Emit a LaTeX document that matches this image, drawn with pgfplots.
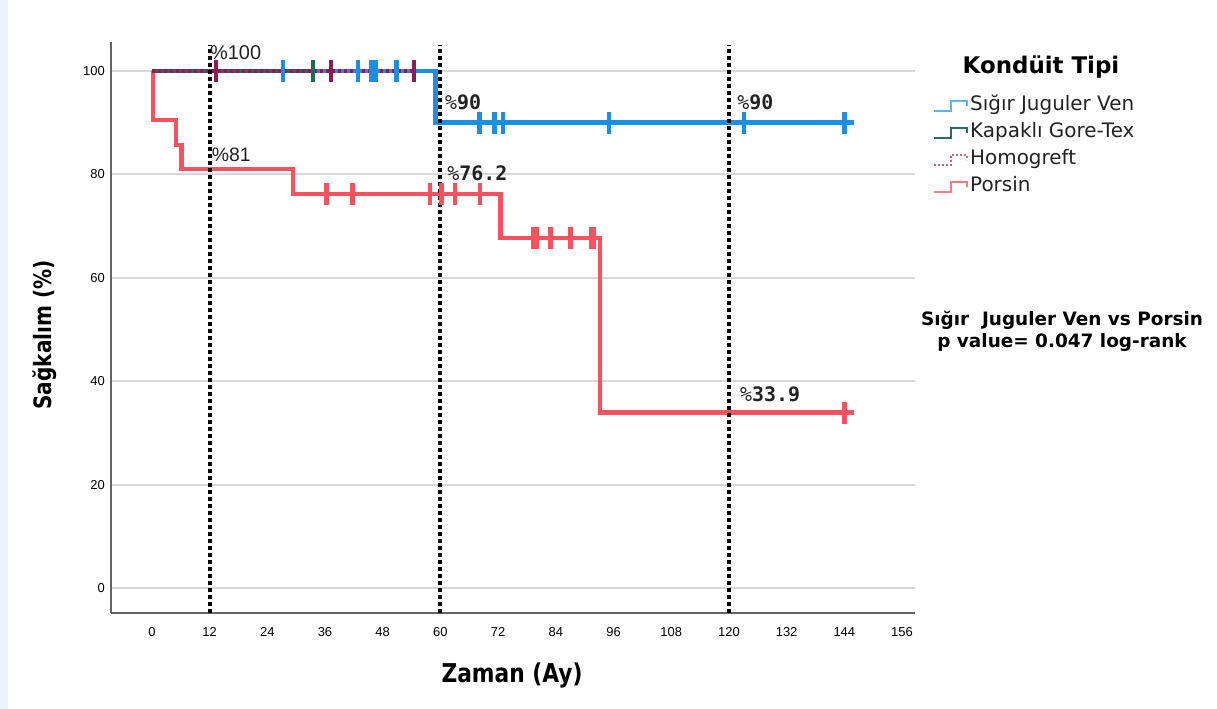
\documentclass[border=0pt]{standalone}
\usepackage{fontspec}
\setmainfont{DejaVu Sans}
\newfontfamily\condfont[FakeStretch=0.84]{DejaVu Sans}
\newfontfamily\tickfont{Liberation Sans}
\newfontfamily\monofont{DejaVu Sans Mono}
\newfontfamily\arialfont{Liberation Sans}
\usepackage{pgfplots}
\pgfplotsset{compat=1.18}
\definecolor{cblue}{RGB}{26,143,227}
\definecolor{cteal}{RGB}{28,107,94}
\definecolor{cmaroon}{RGB}{140,28,86}
\definecolor{cred}{RGB}{247,82,94}
\definecolor{cblueL}{RGB}{95,180,240}
\definecolor{ctealL}{RGB}{40,110,100}
\definecolor{cmaroonL}{RGB}{200,100,140}
\definecolor{credL}{RGB}{255,120,128}
\definecolor{gridgray}{RGB}{215,215,215}
\definecolor{axisgray}{RGB}{100,100,100}
\definecolor{legtext}{RGB}{34,34,34}
\definecolor{bgblue}{RGB}{234,244,252}
\begin{document}
\begin{tikzpicture}
\fill[white] (0,0) rectangle (1217bp,709bp);
\fill[bgblue] (0,0) rectangle (8bp,709bp);
\useasboundingbox (0,0) rectangle (1217bp,709bp);
\begin{axis}[
  at={(111bp,96bp)}, anchor=south west,
  scale only axis, width=804bp, height=571bp,
  xmin=-8.5, xmax=158.7, ymin=-4.84, ymax=105.6,
  axis lines*=left,
  axis line style={color=axisgray, line width=1.2bp, -},
  xtick={0,12,...,156}, ytick={0,20,...,100},
  major tick length=0pt,
  ymajorgrids, grid style={color=gridgray, line width=2bp},
  tick label style={font=\fontsize{13}{15}\selectfont\tickfont, text=black},
  /pgf/number format/assume math mode=true,
  xticklabel style={yshift=-11bp},
  yticklabel style={xshift=-2.7bp},
  xlabel={Zaman (Ay)}, ylabel={Sağkalım (\%)},
  xlabel style={at={(axis description cs:0.4988,-0.110)}, anchor=center,
    font=\fontsize{26}{30}\selectfont\condfont\bfseries},
  ylabel style={at={(axis description cs:-0.0821,0.487)}, anchor=center,
    font=\fontsize{24}{28}\selectfont\condfont\bfseries},
  clip=false,
  legend style={at={(1.0224,0.912)}, anchor=north west, draw=none, fill=none,
    inner sep=0pt, font=\fontsize{20}{24}\selectfont, text=legtext,
    nodes={inner xsep=2bp, inner ysep=4.5bp, text height=14bp, text depth=4bp},
    row sep=0pt},
  legend cell align=left,
  legend image code/.code={\draw[#1] (0bp,-5bp) -- (17bp,-5bp) -- (17bp,5bp) -- (33bp,5bp) -- (33bp,0bp);},
]
\addlegendimage{cblueL, line width=2bp}
\addlegendentry{Sığır Juguler Ven}
\addlegendimage{ctealL, line width=2bp}
\addlegendentry{Kapaklı Gore-Tex}
\addlegendimage{cmaroonL, line width=2bp, dash pattern=on 2bp off 2bp}
\addlegendentry{Homogreft}
\addlegendimage{credL, line width=2bp}
\addlegendentry{Porsin}

% Porsin
\addplot[const plot, cred, line width=4.5bp, forget plot] coordinates {
 (0,100) (0.2,90.5) (5,85.7) (6.2,81) (29.3,76.2) (72.5,67.7) (93.2,33.9) (146,33.9)};
\addplot[only marks, mark=|, mark size=11bp, cred, mark options={line width=4.5bp, solid}, forget plot] coordinates {
 (36.3,76.2) (41.7,76.2) (57.8,76.2) (60.2,76.2) (63,76.2) (68.2,76.2)
 (79.3,67.7) (80.1,67.7) (82.9,67.7) (87.1,67.7) (91.3,67.7) (91.9,67.7)
 (144,33.9)};
% Sigir Juguler Ven
\addplot[const plot, cblue, line width=4.5bp, forget plot] coordinates {
 (0,100) (59,90) (146,90)};
\addplot[only marks, mark=|, mark size=11bp, cblue, mark options={line width=4.5bp, solid}, forget plot] coordinates {
 (27.3,100) (42.9,100) (45.7,100) (46.6,100) (50.9,100)
 (68.1,90) (71.3,90) (73,90) (95.1,90) (123.1,90) (144,90)};
% Kapakli Gore-Tex
\addplot[const plot, cteal, line width=4.5bp, forget plot] coordinates {
 (0,100) (33.5,100)};
\addplot[only marks, mark=|, mark size=11bp, cteal, mark options={line width=4.5bp, solid}, forget plot] coordinates {
 (33.5,100)};
% Homogreft
\addplot[const plot, cmaroon, line width=4.5bp, dash pattern=on 3bp off 3bp, forget plot] coordinates {
 (0,100) (54.5,100)};
\addplot[only marks, mark=|, mark size=11bp, cmaroon, mark options={line width=4.5bp, solid}, forget plot] coordinates {
 (13.3,100) (37.2,100) (54.5,100)};

% reference lines
\addplot[black, line width=4bp, dash pattern=on 4bp off 3bp, forget plot] coordinates {(12,-4.84) (12,105)};
\addplot[black, line width=4bp, dash pattern=on 4bp off 3bp, forget plot] coordinates {(60,-4.84) (60,105)};
\addplot[black, line width=4bp, dash pattern=on 4bp off 3bp, forget plot] coordinates {(120,-4.84) (120,105)};

% annotations
\node[anchor=base west, inner sep=0pt, font=\fontsize{20}{24}\selectfont\arialfont, text=legtext] at (axis cs:12.08,102.26) {\%100};
\node[anchor=base west, inner sep=0pt, font=\fontsize{19.5}{24}\selectfont\arialfont, text=legtext] at (axis cs:12.44,82.46) {\%81};
\node[anchor=base west, inner sep=0pt, font=\fontsize{20}{24}\selectfont\monofont, text=legtext] at (axis cs:60.96,92.46) {\%\textbf{90}};
\node[anchor=base west, inner sep=0pt, font=\fontsize{20}{24}\selectfont\monofont, text=legtext] at (axis cs:61.4,78.78) {\%\textbf{76.2}};
\node[anchor=base west, inner sep=0pt, font=\fontsize{20}{24}\selectfont\monofont, text=legtext] at (axis cs:121.7,92.46) {\%\textbf{90}};
\node[anchor=base west, inner sep=0pt, font=\fontsize{20}{24}\selectfont\monofont, text=legtext] at (axis cs:122.3,36.03) {\%\textbf{33.9}};
\end{axis}
\node[font=\fontsize{23}{27}\selectfont\bfseries, text=black] at (1041bp,642bp) {Kondüit Tipi};
\node[font=\fontsize{18.5}{22}\selectfont\bfseries, align=center, text=black] at (1062bp,378bp) {Sığır\ \ Juguler Ven vs Porsin\\p value= 0.047 log-rank};
\end{tikzpicture}
\end{document}
